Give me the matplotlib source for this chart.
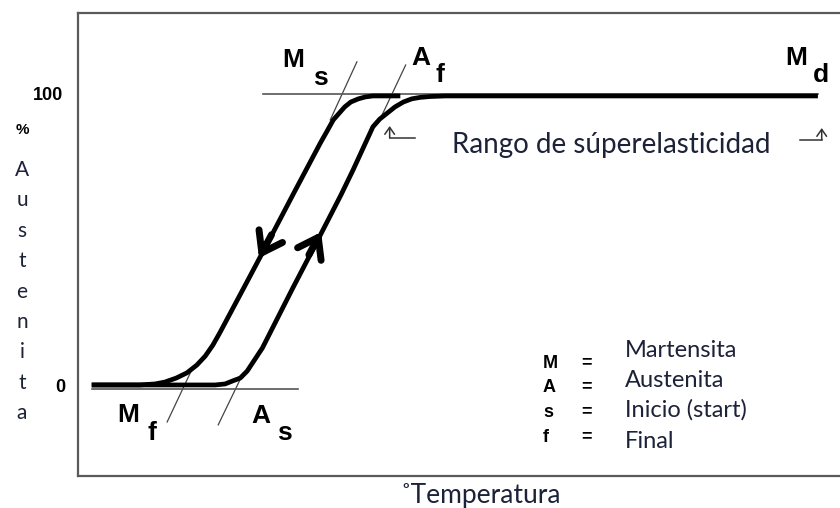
#libraries
import matplotlib.pyplot as plt

#######################
#data
#######################

#temperature (arbitrary units 0-100) and % austenite
#cooling branch (austenite -> martensite)
cool_T = [1.8, 8.1, 10.1, 11.4, 12.9, 14.3, 15.6, 16.7, 17.7, 18.6, 21.9, 25.1, 28.4,
          31.8, 32.7, 33.5, 34.3, 35.0, 35.8, 36.8, 37.7, 38.7, 42.3]
cool_pct = [0, 0, 0.35, 1.0, 2.4, 4.2, 6.9, 10.0, 13.8, 18.0, 34.3, 50.2, 66.8,
            83.7, 87.9, 91.7, 94.1, 96.2, 97.9, 99.0, 99.65, 100, 100]

#heating branch (martensite -> austenite)
heat_T = [1.8, 16.0, 18.0, 19.3, 20.3, 21.3, 22.2, 23.0, 24.2, 25.2, 28.2, 31.4, 34.5,
          36.1, 38.7, 39.6, 40.6, 41.6, 42.7, 43.8, 44.9, 46.2, 48.2, 97.1]
heat_pct = [0, 0, 0, 0.35, 1.4, 2.4, 4.8, 8.0, 12.8, 18.0, 33.6, 49.8, 65.7,
            74.4, 89.3, 92.0, 94.1, 96.2, 97.9, 99.0, 99.5, 99.8, 100, 100]

#tangent construction lines (T pairs, % pairs)
tangents = {
    'Ms': ([33.1, 36.6], [91.7, 111.8]),
    'Af': ([39.6, 43.0], [91.7, 110.7]),
    'Mf': ([15.1, 11.7], [6.2, -12.8]),
    'As': ([21.7, 18.4], [4.2, -13.8]),
}
top_ref_T = [24.3, 97.1]
top_ref_pct = [100.7, 100.7]
bot_ref_T = [1.8, 28.9]
bot_ref_pct = [-1.4, -1.4]

#direction arrows on the branches: (tip, tail)
cool_arrow = ((23.75, 43.9), (25.4, 52.0))
heat_arrow = ((31.9, 52.9), (30.3, 45.0))

#small range markers of the superelastic range
rng_left_T = [44.2, 40.9]
rng_left_pct = [85.5, 85.5]
rng_left_tip = (40.9, 89.6)
rng_right_T = [94.8, 97.6]
rng_right_pct = [84.8, 84.8]
rng_right_tip = (97.6, 88.9)

#point labels: (main letter, subscript, x, baseline, sub x, sub baseline)
point_labels = [
    ('M', 's', 26.8, 110.0, 30.8, 103.8),
    ('A', 'f', 43.8, 110.7, 46.9, 104.8),
    ('M', 'd', 92.8, 110.7, 96.5, 104.8),
    ('M', 'f', 5.1, -12.8, 9.1, -19.0),
    ('A', 's', 22.8, -13.1, 26.1, -19.0),
]

legend_keys = ['M', 'A', 's', 'f']
legend_words = ['Martensita', 'Austenita', 'Inicio (start)', 'Final']
ylabel_letters = list('Austenita')

W, H = 840, 508
txt_col = '#1c2238'

#######################
#figure
#######################
fig = plt.figure(figsize=(W / 100, H / 100), dpi=100)
ax = fig.add_axes([78 / W, 1 - 476 / H, 1 - 78 / W, (476 - 13) / H])
ax.set_xlim(0, 100)
ax.set_ylim(-31.5, 128.7)
ax.set_xticks([])
ax.set_yticks([])
ax.spines['right'].set_visible(False)
for s in ['left', 'top', 'bottom']:
    ax.spines[s].set_color('#5a5a5a')
    ax.spines[s].set_linewidth(1.6)

#thin construction lines
for key in tangents:
    ax.plot(tangents[key][0], tangents[key][1], color='#444444', lw=0.9)
ax.plot(top_ref_T, top_ref_pct, color='#555555', lw=1.2)
ax.plot(bot_ref_T, bot_ref_pct, color='#555555', lw=1.2)

#main curves
ax.plot(cool_T, cool_pct, color='black', lw=3.4, solid_capstyle='butt')
ax.plot(heat_T, heat_pct, color='black', lw=3.4, solid_capstyle='butt')

#direction arrows
for tip, tail in [cool_arrow, heat_arrow]:
    ax.annotate('', xy=tip, xytext=tail,
                arrowprops=dict(arrowstyle='->,head_length=0.85,head_width=0.6',
                                lw=5.0, color='black', mutation_scale=16,
                                shrinkA=0, shrinkB=0))

#range markers
ax.plot(rng_left_T, rng_left_pct, color='#333333', lw=1.1)
ax.plot(rng_right_T, rng_right_pct, color='#333333', lw=1.1)
ax.annotate('', xy=rng_left_tip, xytext=(rng_left_T[1], rng_left_pct[1]),
            arrowprops=dict(arrowstyle='->,head_length=0.5,head_width=0.35',
                            lw=1.1, color='#333333', mutation_scale=10,
                            shrinkA=0, shrinkB=0))
ax.annotate('', xy=rng_right_tip, xytext=(rng_right_T[1], rng_right_pct[1]),
            arrowprops=dict(arrowstyle='->,head_length=0.5,head_width=0.35',
                            lw=1.1, color='#333333', mutation_scale=10,
                            shrinkA=0, shrinkB=0))

#point labels
for main, sub, x, y, sx, sy in point_labels:
    ax.text(x, y, main, fontsize=19, fontweight='bold', family='Liberation Sans',
            ha='left', va='baseline')
    ax.text(sx, sy, sub, fontsize=19, fontweight='bold', family='Liberation Sans',
            ha='left', va='baseline')

#helper: pixel position -> figure fraction
def px(x, y):
    return x / W, 1 - y / H

fig.text(*px(452, 153), 'Rango de súperelasticidad', fontsize=20, family='Lato',
         color=txt_col, ha='left', va='baseline')

#legend block
key_base = [368, 392, 417, 442]
word_base = [357, 387, 417, 448]
for i in range(4):
    fig.text(*px(543, key_base[i]), legend_keys[i], fontsize=13, fontweight='bold',
             family='Liberation Sans', ha='left', va='baseline')
    fig.text(*px(587, key_base[i] - 5), '=', fontsize=13, fontweight='bold',
             family='Liberation Sans', ha='center', va='center')
    fig.text(*px(625, word_base[i]), legend_words[i], fontsize=17, family='Lato',
             color=txt_col, ha='left', va='baseline')

#y axis ticks and label
fig.text(*px(63, 100), '100', fontsize=13, fontweight='bold', family='Liberation Sans',
         ha='right', va='baseline')
fig.text(*px(65, 392), '0', fontsize=13, fontweight='bold', family='Liberation Sans',
         ha='right', va='baseline')
fig.text(*px(22, 130), '%', fontsize=11, fontweight='bold', family='Liberation Sans',
         ha='center', va='center')
for i, ch in enumerate(ylabel_letters):
    fig.text(*px(22, 170 + i * 30.4), ch, fontsize=15, family='Lato',
             color=txt_col, ha='center', va='center')

#x axis label
fig.text(*px(400, 503), '˚Temperatura', fontsize=19, family='Lato',
         color=txt_col, ha='left', va='baseline')

fig.savefig('out.png', dpi=100)
